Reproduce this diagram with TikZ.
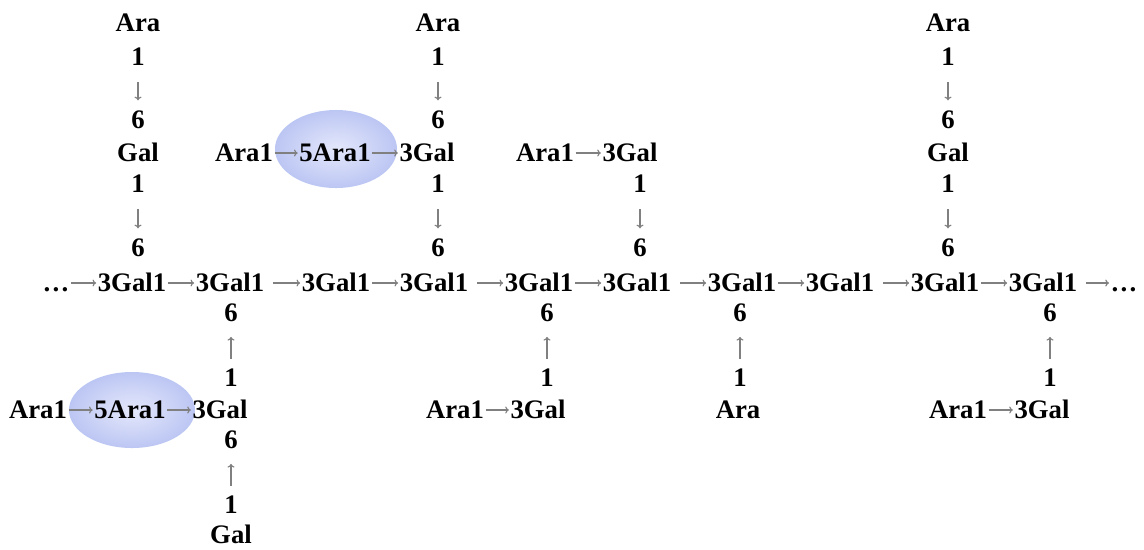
\documentclass[tikz,border=0pt]{standalone}
\usepackage{fontspec}
\setmainfont{Liberation Serif}
\usetikzlibrary{arrows.meta,shapes.geometric}
\definecolor{Link}{HTML}{808080}
\definecolor{BlobIn}{HTML}{E4E8FB}
\definecolor{BlobOut}{HTML}{BCC6F3}

\begin{document}
\begin{tikzpicture}[x=0.025cm,y=-0.025cm,>={To[length=2.6pt,width=5pt]}]
  \tikzstyle{res}=[inner sep=1pt,text height=12.6pt,text depth=0pt,font=\bfseries\fontsize{19}{21}\selectfont]
  \tikzstyle{lnk}=[draw=Link,line width=0.8pt,->]
  \tikzstyle{lnksp}=[lnk,shorten <=5pt]
  \tikzstyle{lnkdn}=[lnk,shorten <=10.5pt,shorten >=6.5pt]
  \tikzstyle{lnkup}=[lnk,shorten <=6pt,shorten >=9.5pt]
  \tikzstyle{blob}=[ellipse,inner sep=0pt,inner color=BlobIn,outer color=BlobOut]
  \useasboundingbox (0,0) rectangle (1144,549);
  % highlighted Ara1->5Ara1 links
  \node[blob,minimum width=3.05cm,minimum height=1.95cm] (e1) at (336,149) {};
  \node[blob,minimum width=3.15cm,minimum height=1.9cm] (e2) at (132,410) {};
  % main chain
  \node[res] (dl) at (56,283) {\dots};
  \node[res] (m1) at (132,283) {3Gal1};
  \node[res] (m2) at (230,283) {3Gal1};
  \node[res] (m3) at (336,283) {3Gal1};
  \node[res] (m4) at (434,283) {3Gal1};
  \node[res] (m5) at (539,283) {3Gal1};
  \node[res] (m6) at (637,283) {3Gal1};
  \node[res] (m7) at (742,283) {3Gal1};
  \node[res] (m8) at (840,283) {3Gal1};
  \node[res] (m9) at (945,283) {3Gal1};
  \node[res] (m10) at (1043,283) {3Gal1};
  \node[res] (dr) at (1124,283) {\dots};
  \draw[lnk] (dl) -- (m1);
  \draw[lnk] (m1) -- (m2);
  \draw[lnksp] (m2) -- (m3);
  \draw[lnk] (m3) -- (m4);
  \draw[lnksp] (m4) -- (m5);
  \draw[lnk] (m5) -- (m6);
  \draw[lnksp] (m6) -- (m7);
  \draw[lnk] (m7) -- (m8);
  \draw[lnksp] (m8) -- (m9);
  \draw[lnk] (m9) -- (m10);
  \draw[lnksp] (m10) -- (dr);
  % side chains above
  \node[res] (tA1) at (138,23) {Ara};
  \node[res] (tA2) at (138,57) {1};
  \node[res] (tA3) at (138,120) {6};
  \node[res] (tA4) at (138,153) {Gal};
  \node[res] (tA5) at (138,184) {1};
  \node[res] (tA6) at (138,248) {6};
  \draw[lnkdn] (tA2) -- (tA3);
  \draw[lnkdn] (tA5) -- (tA6);
  \node[res] (tB1) at (438,23) {Ara};
  \node[res] (tB2) at (438,57) {1};
  \node[res] (tB3) at (438,120) {6};
  \node[res] (sB1) at (244,153) {Ara1};
  \node[res] (sB2) at (335,153) {5Ara1};
  \node[res] (tB4) at (427,153) {3Gal};
  \node[res] (tB5) at (438,184) {1};
  \node[res] (tB6) at (438,248) {6};
  \draw[lnk] (sB1) -- (sB2);
  \draw[lnk] (sB2) -- (tB4);
  \draw[lnkdn] (tB2) -- (tB3);
  \draw[lnkdn] (tB5) -- (tB6);
  \node[res] (sC1) at (545,153) {Ara1};
  \node[res] (tC4) at (630,153) {3Gal};
  \node[res] (tC5) at (640,184) {1};
  \node[res] (tC6) at (640,248) {6};
  \draw[lnk] (sC1) -- (tC4);
  \draw[lnkdn] (tC5) -- (tC6);
  \node[res] (tD1) at (948,23) {Ara};
  \node[res] (tD2) at (948,57) {1};
  \node[res] (tD3) at (948,120) {6};
  \node[res] (tD4) at (948,153) {Gal};
  \node[res] (tD5) at (948,184) {1};
  \node[res] (tD6) at (948,248) {6};
  \draw[lnkdn] (tD2) -- (tD3);
  \draw[lnkdn] (tD5) -- (tD6);
  % side chains below
  \node[res] (bE1) at (231,313) {6};
  \node[res] (bE2) at (231,378) {1};
  \node[res] (sE1) at (38,410) {Ara1};
  \node[res] (sE2) at (130,410) {5Ara1};
  \node[res] (bE3) at (220,410) {3Gal};
  \node[res] (bE4) at (231,440) {6};
  \node[res] (bE5) at (231,505) {1};
  \node[res] (bE6) at (231,535) {Gal};
  \draw[lnkup] (bE2) -- (bE1);
  \draw[lnk] (sE1) -- (sE2);
  \draw[lnk] (sE2) -- (bE3);
  \draw[lnkup] (bE5) -- (bE4);
  \node[res] (bF1) at (547,313) {6};
  \node[res] (bF2) at (547,378) {1};
  \node[res] (sF1) at (455,410) {Ara1};
  \node[res] (bF3) at (538,410) {3Gal};
  \draw[lnkup] (bF2) -- (bF1);
  \draw[lnk] (sF1) -- (bF3);
  \node[res] (bG1) at (740,313) {6};
  \node[res] (bG2) at (740,378) {1};
  \node[res] (bG3) at (738,410) {Ara};
  \draw[lnkup] (bG2) -- (bG1);
  \node[res] (bH1) at (1050,313) {6};
  \node[res] (bH2) at (1050,378) {1};
  \node[res] (sH1) at (958,410) {Ara1};
  \node[res] (bH3) at (1042,410) {3Gal};
  \draw[lnkup] (bH2) -- (bH1);
  \draw[lnk] (sH1) -- (bH3);
\end{tikzpicture}
\end{document}
